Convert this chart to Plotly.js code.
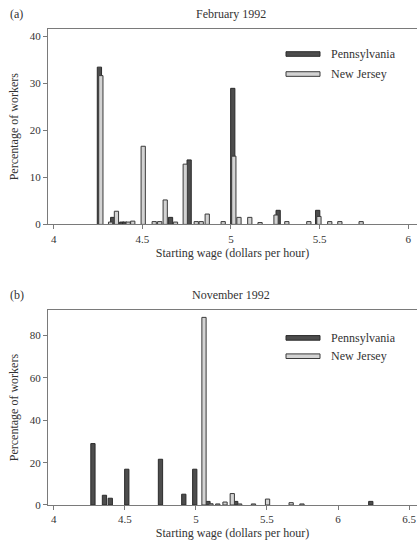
<!DOCTYPE html>
<html>
<head>
<meta charset="utf-8">
<script src="https://cdn.plot.ly/plotly-3.0.1.min.js"></script>
<style>html,body{margin:0;padding:0;background:#fff;}#chart{width:417px;height:544px;}</style>
</head>
<body>
<div id="chart"></div>
<script>
// ---- Data ----
const febWagePA = [4.258, 4.333, 4.384, 4.401, 4.659, 4.764, 5.010, 5.266, 5.489];
const febPctPA  = [33.4, 1.5, 0.5, 0.5, 1.5, 13.7, 28.9, 3.0, 3.0];
const febWageNJ = [4.266, 4.321, 4.354, 4.420, 4.446, 4.505, 4.567, 4.598, 4.629, 4.687, 4.742, 4.804, 4.832, 4.866, 4.956, 5.016, 5.045, 5.106, 5.164, 5.254, 5.315, 5.439, 5.496, 5.557, 5.614, 5.734];
const febPctNJ  = [31.6, 0.5, 2.8, 0.5, 0.7, 16.6, 0.6, 0.6, 5.2, 0.5, 12.8, 0.6, 0.6, 2.2, 0.6, 14.5, 1.5, 1.5, 0.4, 2.0, 0.6, 0.6, 1.7, 0.6, 0.6, 0.6];

const novWagePA = [4.276, 4.357, 4.398, 4.514, 4.751, 4.915, 4.992, 5.085, 5.280, 6.230];
const novPctPA  = [29.0, 4.6, 3.2, 16.9, 21.6, 5.1, 16.9, 1.7, 1.7, 1.7];
const novWageNJ = [5.057, 5.106, 5.154, 5.205, 5.256, 5.308, 5.405, 5.504, 5.670, 5.746];
const novPctNJ  = [88.6, 0.6, 0.5, 1.4, 5.4, 0.5, 0.5, 2.8, 1.1, 0.5];

const febTicks = [4, 4.5, 5, 5.5, 6];
const febTickText = ["4", "4.5", "5", "5.5", "6"];
const novTicks = [4, 4.5, 5, 5.5, 6, 6.5];
const novTickText = ["4", "4.5", "5", "5.5", "6", "6.5"];
const febYTicks = [0, 10, 20, 30, 40];
const novYTicks = [0, 20, 40, 60, 80];

const seriesNames = ["Pennsylvania", "New Jersey"];
const panelTitles = ["February 1992", "November 1992"];
const panelLabels = ["(a)", "(b)"];
const xTitle = "Starting wage (dollars per hour)";
const yTitle = "Percentage of workers";

// ---- Styles ----
const FONT = "Liberation Serif, Times New Roman, serif";
const TXT = "#333333";
const AX = "#7a7a7a";
const PA_FILL = "#4d4d4d", PA_LINE = "#2b2b2b";
const NJ_FILL = "#d3d3d3", NJ_LINE = "#3a3a3a";

const W = 417, H = 544;
const ML = 48, MR = 0, MT = 29, MB = 39.3;
const PW = W - ML - MR, PH = H - MT - MB;
const px2x = p => (p - ML) / PW;
const py2y = p => (H - MB - p) / PH;

function bars(x, y, name, fill, line, xa, ya, w) {
  return {type: "bar", x: x, y: y, name: name, xaxis: xa, yaxis: ya, width: w,
    marker: {color: fill, line: {color: line, width: 1}}, showlegend: false, hoverinfo: "x+y"};
}

const data = [
  bars(febWagePA, febPctPA, seriesNames[0], PA_FILL, PA_LINE, "x", "y", 0.024),
  bars(febWageNJ, febPctNJ, seriesNames[1], NJ_FILL, NJ_LINE, "x", "y", 0.024),
  bars(novWagePA, novPctPA, seriesNames[0], PA_FILL, PA_LINE, "x2", "y2", 0.030),
  bars(novWageNJ, novPctNJ, seriesNames[1], NJ_FILL, NJ_LINE, "x2", "y2", 0.030)
];

const axisCommon = {
  showline: true, linecolor: AX, linewidth: 1, ticks: "outside", ticklen: 4, tickcolor: AX,
  showgrid: false, zeroline: false, tickfont: {family: FONT, size: 11, color: TXT}
};

const topA = 29, botA = 224.3, topB = 310, botB = 504.7;

const layout = {
  width: W, height: H, margin: {l: ML, r: MR, t: MT, b: MB},
  paper_bgcolor: "#fff", plot_bgcolor: "#fff", barmode: "overlay", bargap: 0,
  font: {family: FONT, color: TXT},
  xaxis: Object.assign({}, axisCommon, {anchor: "y", domain: [0, 1], range: [3.968, 6.049], mirror: true,
    tickvals: febTicks, ticktext: febTickText,
    title: {text: xTitle, font: {family: FONT, size: 12, color: TXT}, standoff: 4}}),
  yaxis: Object.assign({}, axisCommon, {anchor: "x", domain: [py2y(botA), py2y(topA)], range: [0, 41.5],
    tickvals: febYTicks, title: {text: yTitle, font: {family: FONT, size: 12, color: TXT}, standoff: 8}}),
  xaxis2: Object.assign({}, axisCommon, {anchor: "y2", domain: [0, 1], range: [3.96, 6.555], mirror: true,
    tickvals: novTicks, ticktext: novTickText,
    title: {text: xTitle, font: {family: FONT, size: 12, color: TXT}, standoff: 4}}),
  yaxis2: Object.assign({}, axisCommon, {anchor: "x2", domain: [py2y(botB), py2y(topB)], range: [0, 92],
    tickvals: novYTicks, title: {text: yTitle, font: {family: FONT, size: 12, color: TXT}, standoff: 8}}),
  shapes: [],
  annotations: []
};

// Panel labels and titles
[[14, panelLabels[0], panelTitles[0]], [295, panelLabels[1], panelTitles[1]]].forEach(([py, lab, ttl]) => {
  layout.annotations.push({xref: "paper", yref: "paper", x: px2x(8), y: py2y(py), xanchor: "left", yanchor: "middle",
    text: lab, showarrow: false, font: {family: FONT, size: 12, color: TXT}});
  layout.annotations.push({xref: "paper", yref: "paper", x: px2x(231), y: py2y(py), xanchor: "center", yanchor: "middle",
    text: ttl, showarrow: false, font: {family: FONT, size: 12, color: TXT}});
});

// Legends (drawn as swatch + label)
function legendItem(py, name, fill, line) {
  layout.shapes.push({type: "rect", xref: "paper", yref: "paper", x0: px2x(286), x1: px2x(320),
    y0: py2y(py + 2.3), y1: py2y(py - 2.3), fillcolor: fill, line: {color: line, width: 1}});
  layout.annotations.push({xref: "paper", yref: "paper", x: px2x(329), y: py2y(py), xanchor: "left", yanchor: "middle",
    text: name, showarrow: false, font: {family: FONT, size: 12, color: TXT}});
}
legendItem(54, seriesNames[0], PA_FILL, PA_LINE);
legendItem(74, seriesNames[1], NJ_FILL, NJ_LINE);
legendItem(337.7, seriesNames[0], PA_FILL, PA_LINE);
legendItem(356, seriesNames[1], NJ_FILL, NJ_LINE);

Plotly.newPlot("chart", data, layout, {staticPlot: true, displayModeBar: false});
</script>
</body>
</html>
